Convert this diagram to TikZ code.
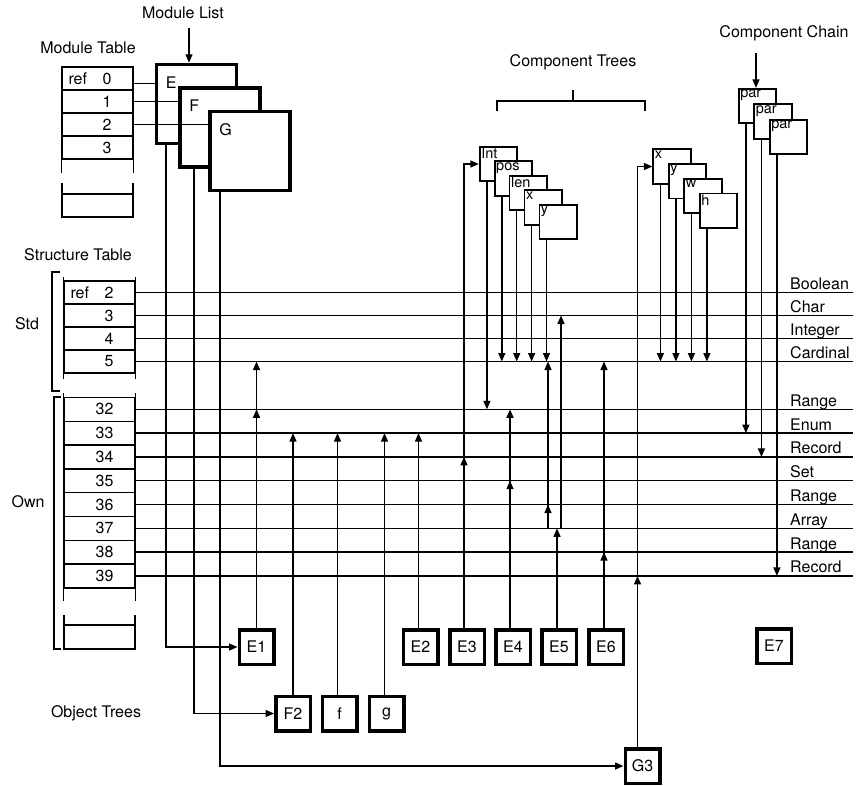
\documentclass[tikz,border=0pt]{standalone}
\usepackage{fontspec}
\setmainfont{TeX Gyre Heros}
\usetikzlibrary{arrows.meta}
\newcommand{\rowtxt}[2]{\makebox[58pt]{#1\hfill#2\hspace*{15pt}}}
\tikzset{
  line/.style={line width=1.4pt},
  arr/.style={line width=1.4pt,-{Triangle[length=8.5pt,width=7pt]}},
  cell/.style={draw,line width=1.4pt,minimum width=71pt,minimum height=23pt,inner sep=0pt},
  modbox/.style={draw,line width=3.5pt,fill=white,minimum width=80pt,minimum height=79pt,inner sep=0pt,
    label={[anchor=north west,inner sep=0pt,xshift=11pt,yshift=-13.5pt]north west:#1}},
  treebox/.style={draw,line width=1.7pt,fill=white,minimum width=37.5pt,minimum height=34.5pt,inner sep=0pt,
    label={[treetag]north west:#1}},
  treetag/.style={anchor=north west,inner sep=0pt,xshift=2.2pt,yshift=-2pt,font=\fontsize{14.5}{17}\selectfont},
  objbox/.style={draw,line width=3.5pt,minimum width=34.5pt,minimum height=34.5pt,inner sep=0pt},
  title/.style={inner sep=0pt},
  tname/.style={anchor=base west,inner sep=0pt,yshift=3pt},
}
\begin{document}
\begin{tikzpicture}[x=1pt,y=-1pt,font=\fontsize{16}{19}\selectfont]
  \useasboundingbox (0,0) rectangle (856,785);
  % titles
  \node[title] (tmlist) at (183,13) {Module List};
  \node[title] (tmtab) at (88,48) {Module Table};
  \node[title] (tstab) at (78,255) {Structure Table};
  \node[title] (tctree) at (573,62) {Component Trees};
  \node[title] (tcchain) at (784,33) {Component Chain};
  \node[title] (totree) at (96,713) {Object Trees};
  \node[title] (tstd) at (27,324) {Std};
  \node[title] (town) at (28,502) {Own};

  % module table
  \foreach \n/\t [count=\i from 0] in {0/ref,1/,2/,3/}
    \node[cell] (m\n) at (97.5,{78.5+23*\i}) {\rowtxt{\t}{\n}};
  \draw[line] (m3.south west) -- ++(0,13) (m3.south east) -- ++(0,13);
  \draw[line] (62,183) -- (62,217) -- (133,217) -- (133,183) (62,194) -- (133,194);

  % module list
  \node[modbox=E] (E) at (196.5,104) {};
  \node[modbox=F] (F) at (220,127.5) {};
  \node[modbox=G] (G) at (250,151) {};
  \coordinate (ml) at (189,28);
  \draw[arr] (ml) -- (ml |- E.north);
  \coordinate (m0r) at ([yshift=-5pt]m0.east);
  \draw[line] (m0r) -- (m0r -| E.west);
  \draw[line] (m1.east) -- (m1.east -| F.west);
  \draw[line] (m2.east) -- (m2.east -| G.west);

  % structure table
  \foreach \n/\t [count=\i from 0] in {2/ref,3/,4/,5/}
    \node[cell] (s\n) at (99.5,{292.5+23*\i}) {\rowtxt{\t}{\n}};
  \foreach \n [count=\i from 0] in {32,...,39}
    \node[cell,minimum height=23.8pt] (o\n) at (99.5,{409.3+23.8*\i}) {\rowtxt{}{\n}};
  \draw[line] ([yshift=3pt]s2.north west) -- ([yshift=-5pt]s5.south west)
              ([yshift=3pt]s2.north east) -- ([yshift=-5pt]s5.south east);
  \draw[line] ([yshift=4pt]o32.north west) -- ([yshift=-12pt]o39.south west)
              ([yshift=4pt]o32.north east) -- ([yshift=-12pt]o39.south east);
  \draw[line] (64,615) -- (64,649) -- (135,649) -- (135,615) (64,625) -- (135,625);
  \draw[line] (60,272) -- (52,272) -- (52,391) -- (60,391);
  \draw[line] (61,397) -- (54,397) -- (54,649) -- (61,649);

  % type lines
  \foreach \r/\t in {s2/Boolean,s3/Char,s4/Integer,s5/Cardinal,o32/Range,o33/Enum,o34/Record,
                     o35/Set,o36/Range,o37/Array,o38/Range,o39/Record} {
    \draw[line] (\r.east) -- (\r.east -| 853,0);
    \node[tname] (n\r) at (\r.east -| 790,0) {\t};
  }

  % object trees
  \foreach \o/\x/\y in {E1/256.5/647,E2/420.5/647,E3/467/647,E4/513/647,E5/559/647,E6/606/647,
                        E7/774/646,F2/293/713.5,f/339.5/713.5,g/386.5/713.5,G3/642.5/766}
    \node[objbox] (\o) at (\x,\y) {\o};
  \draw[arr] (E.south -| 166,0) |- (E1.west);
  \draw[arr] (F.south -| 194,0) |- (F2.west);
  \draw[arr] (G.south -| 220,0) |- (G3.west);

  % component trees and chain
  \draw[line] (497,111) -- (497,101) -- (645,101) -- (645,111) (573,101) -- (573,90);
  \foreach \b [count=\i from 0] in {Int,pos,len,x,y}
    \node[treebox=\b] (a\i) at ({498.5+14.9*\i},{164+14.5*\i}) {};
  \foreach \b [count=\i from 0] in {x,y,w,h}
    \node[treebox=\b] (b\i) at ({672+15.5*\i},{166.5+14.7*\i}) {};
  \foreach \i in {0,1,2}
    \node[treebox=par] (p\i) at ({757.5+15.5*\i},{106+15.5*\i}) {};
  \coordinate (cc) at (756,53);
  \draw[arr] (cc) -- (cc |- p0.north);
  \foreach \k/\t in {a0/o32,a1/s5,a2/s5,a3/s5,a4/s5,b0/s5,b1/s5,b2/s5,b3/s5,p0/o33,p1/o34,p2/o39} {
    \coordinate (d\k) at ([xshift=8pt]\k.south west);
    \draw[arr] (d\k) -- (d\k |- \t);
  }

  % references from objects
  \foreach \o/\dx in {E1/0,E2/-2,E3/-3,E4/-3,E5/-2,E6/-2,F2/0,f/-2,g/-2,G3/-5}
    \coordinate (u\o) at ([xshift=\dx pt]\o.north);
  \draw[arr] (uE1) -- (uE1 |- s5);
  \draw[arr] (uE1) -- (uE1 |- o32);
  \foreach \o in {E2,F2,f,g} \draw[arr] (u\o) -- (u\o |- o33);
  \draw[arr] (uE3) |- (a0.west);
  \draw[arr] (uE3) -- (uE3 |- o34);
  \draw[arr] (uE4) -- (uE4 |- o32);
  \draw[arr] (uE4) -- (uE4 |- o35);
  \draw[arr] (uE5) -- (uE5 |- o37);
  \draw[arr] (uE6) -- (uE6 |- s5);
  \draw[arr] (uE6) -- (uE6 |- o38);
  \draw[arr] (uG3) |- (b0.west);
  \draw[arr] (uG3) -- (uG3 |- o39);
  \coordinate (ra) at (548,0 |- o37);
  \coordinate (rb) at (561,0 |- o37);
  \draw[arr] (ra) -- (ra |- s5);
  \draw[arr] (ra) -- (ra |- o36);
  \draw[arr] (rb) -- (rb |- s3);
\end{tikzpicture}
\end{document}
